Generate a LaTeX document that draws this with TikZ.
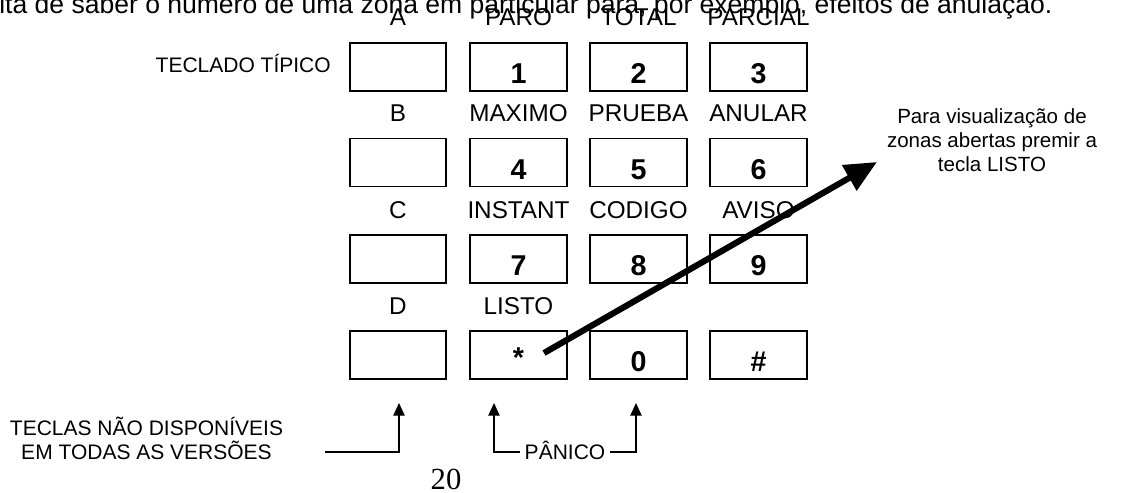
\documentclass[tikz,border=0pt]{standalone}
\usepackage{fontspec}
\setmainfont{Liberation Sans}
\newfontfamily\pagenumfont{Liberation Serif}
\usetikzlibrary{arrows.meta}
\begin{document}
\begin{tikzpicture}[x=0.75pt,y=-0.75pt,
  keybox/.style={draw, line width=1.4pt, minimum width=72.5pt, minimum height=36pt, inner sep=0pt},
  keylab/.style={font=\fontsize{18.2}{20}\selectfont, inner sep=0pt, anchor=base},
  digit/.style={font=\fontsize{21.5}{24}\selectfont\bfseries, inner sep=0pt, anchor=base},
  note/.style={font=\fontsize{15.75}{18}\selectfont, align=center, inner sep=0pt},
  rnote/.style={font=\fontsize{15.4}{18}\selectfont, align=center, inner sep=0pt},
  tip/.style={-{Triangle[length=9.5pt,width=8.5pt]}, line width=1pt},
  bigarrow/.style={-{Triangle[length=24pt,width=21pt]}, line width=4.6pt}
]
\clip (0,0) rectangle (1122,493);
\fill[white] (0,0) rectangle (1122,493);

% cropped body text at top
\node[font=\fontsize{19.9}{22}\selectfont, inner sep=0pt, anchor=base west] (body) at (-1,13)
  {ita de saber o número de uma zona em particular para, por exemplo, efeitos de anulação.};

% key boxes
\foreach \r/\ry in {1/67,2/162.5,3/259,4/355}{
  \foreach \c/\cx in {1/398,2/518.5,3/638.5,4/758.5}{
    \node[keybox] (k\r\c) at (\cx,\ry) {};
  }
}

% labels above keys
\node[keylab] (lA) at (398,25) {A};
\node[keylab] (lParo) at (518.5,25) {PARO};
\node[keylab] (lTotal) at (638.5,25) {TOTAL};
\node[keylab] (lParcial) at (758.5,25) {PARCIAL};
\node[keylab] (lB) at (398,121.5) {B};
\node[keylab] (lMax) at (518.5,121.5) {MAXIMO};
\node[keylab] (lPrueba) at (638.5,121.5) {PRUEBA};
\node[keylab] (lAnular) at (758.5,121.5) {ANULAR};
\node[keylab] (lC) at (398,218) {C};
\node[keylab] (lInst) at (518.5,218) {INSTANT};
\node[keylab] (lCod) at (638.5,218) {CODIGO};
\node[keylab] (lAviso) at (758.5,218) {AVISO};
\node[keylab] (lD) at (398,314.5) {D};
\node[keylab] (lListo) at (518.5,314.5) {LISTO};

% digits
\node[digit] (d1) at (518.5,83) {1};
\node[digit] (d2) at (638.5,83) {2};
\node[digit] (d3) at (758.5,83) {3};
\node[digit] (d4) at (518.5,179) {4};
\node[digit] (d5) at (638.5,179) {5};
\node[digit] (d6) at (758.5,179) {6};
\node[digit] (d7) at (518.5,275) {7};
\node[digit] (d8) at (638.5,275) {8};
\node[digit] (d9) at (758.5,275) {9};
\node[digit] (dstar) at (518.5,367) {*};
\node[digit] (d0) at (638.5,371) {0};
\node[digit] (dhash) at (758.5,371) {\#};

% side texts
\node[note, anchor=base east] (typ) at (331,72) {TECLADO TÍPICO};
\node[rnote, anchor=north] (vis) at (992,108) {Para visualização de\\zonas abertas premir a\\tecla LISTO};
\node[note, anchor=north] (nd) at (146.5,417) {TECLAS NÃO DISPONÍVEIS\\EM TODAS AS VERSÕES};

% big arrow
\coordinate (bs) at (544,353);
\coordinate (bt) at (877,162);
\draw[bigarrow] (bs) -- (bt);

% bottom arrows
\coordinate (a1s) at (325,452);
\coordinate (a1t) at (399,403);
\coordinate (a2t) at (494,403);
\coordinate (a3t) at (636,403);
\node[font=\fontsize{15.75}{18}\selectfont, text height=11.3pt, text depth=0pt, inner xsep=3.7pt, inner ysep=0pt] (pan) at (565,452) {PÂNICO};
\draw[tip] (a1s) -| (a1t);
\draw[tip] (pan.west) -| (a2t);
\draw[tip] (pan.east) -| (a3t);

% page number
\node[font=\fontsize{23}{26}\pagenumfont, inner sep=0pt, anchor=base] (pg) at (446,489) {20};
\end{tikzpicture}
\end{document}
